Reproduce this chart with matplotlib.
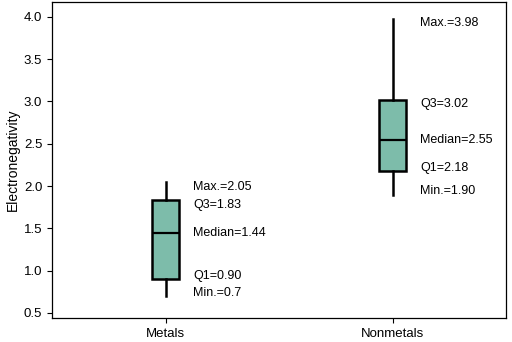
import matplotlib.pyplot as plt

plt.rcParams['font.family'] = ['Liberation Sans', 'DejaVu Sans']

categories = ['Metals', 'Nonmetals']
mins = [0.70, 1.90]
q1s = [0.90, 2.18]
medians = [1.44, 2.55]
q3s = [1.83, 3.02]
maxs = [2.05, 3.98]
min_labels = ['Min.=0.7', 'Min.=1.90']
q1_labels = ['Q1=0.90', 'Q1=2.18']
median_labels = ['Median=1.44', 'Median=2.55']
q3_labels = ['Q3=1.83', 'Q3=3.02']
max_labels = ['Max.=2.05', 'Max.=3.98']

fig = plt.figure(figsize=(5.12, 3.42), dpi=100)
ax = fig.add_axes([0.1016, 0.0702, 0.8876, 0.9248])

stats = []
for i, name in enumerate(categories):
    stats.append({'label': name, 'whislo': mins[i], 'q1': q1s[i], 'med': medians[i],
                  'q3': q3s[i], 'whishi': maxs[i], 'fliers': []})

ax.bxp(stats, positions=[1, 2], widths=0.12, patch_artist=True, showcaps=False,
       boxprops=dict(facecolor='#7dbcaa', edgecolor='black', linewidth=1.8),
       medianprops=dict(color='black', linewidth=1.6),
       whiskerprops=dict(color='black', linewidth=1.8))

# annotation text, nudged a little like the original
for i in range(len(categories)):
    x = i + 1 + 0.12
    for val, lab, dy in [(maxs[i], max_labels[i], -3.5), (q3s[i], q3_labels[i], -3),
                         (medians[i], median_labels[i], 0), (q1s[i], q1_labels[i], 2),
                         (mins[i], min_labels[i], 2.5)]:
        ax.annotate(lab, (x, val), xytext=(0, dy), textcoords='offset points',
                    ha='left', va='center', fontsize=9)

ax.set_xlim(0.5, 2.5)
ax.set_ylim(0.44, 4.18)
ax.set_yticks([0.5, 1.0, 1.5, 2.0, 2.5, 3.0, 3.5, 4.0])
ax.set_yticklabels(['0.5', '1.0', '1.5', '2.0', '2.5', '3.0', '3.5', '4.0'])
ax.set_ylabel('Electronegativity', fontsize=10, labelpad=3)
ax.tick_params(labelsize=9.5, length=3.5, width=0.8)
for s in ax.spines.values():
    s.set_linewidth(0.9)

fig.savefig('out.png', dpi=100)
